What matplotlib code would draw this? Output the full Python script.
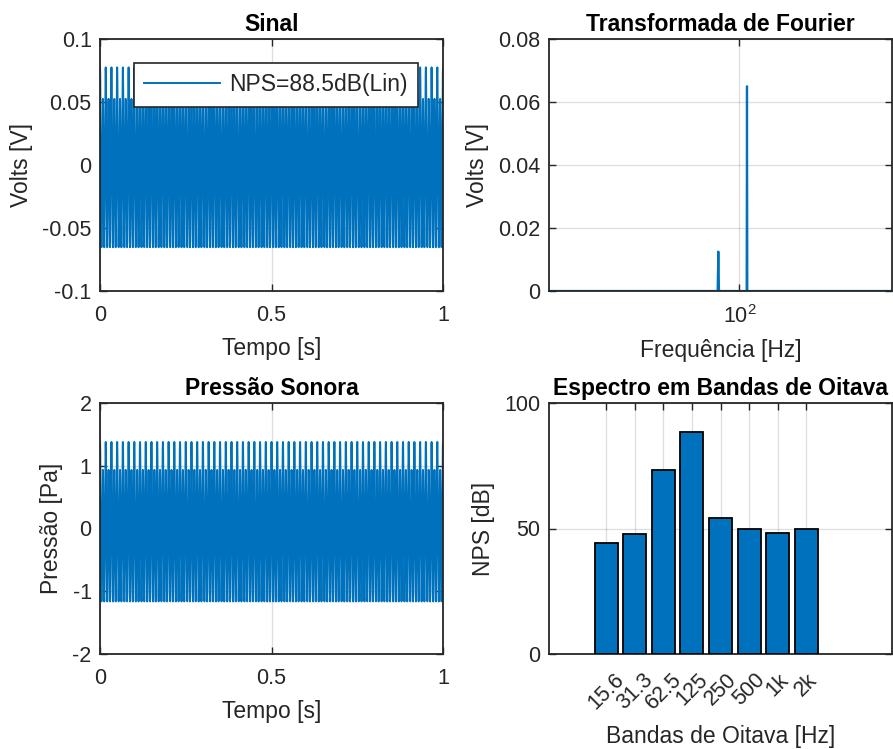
import numpy as np
import matplotlib
matplotlib.use("Agg")
import matplotlib.pyplot as plt
from matplotlib.ticker import FixedLocator, NullLocator

plt.rcParams['font.family'] = ['Liberation Sans', 'DejaVu Sans']
plt.rcParams['font.size'] = 16.5
plt.rcParams['axes.unicode_minus'] = False
plt.rcParams['mathtext.fontset'] = 'custom'
plt.rcParams['mathtext.rm'] = 'Liberation Sans'

# acquisition: 1 s at 8 kHz
fs = 8000
duration = 1.0
# tones seen in the spectrum (Hz) and their amplitudes (V)
tone_freqs = [60, 120]
tone_amps = [0.0125, 0.065]
# microphone calibration, Pa per V
calib_pa_per_v = 17.8
nps_total = 88.5

# octave band levels
band_labels = ['15.6', '31.3', '62.5', '125', '250', '500', '1k', '2k']
band_levels = [44.3, 47.8, 73.3, 88.4, 54.1, 49.8, 48.1, 49.8]

blue = '#0072BD'
dark = '#262626'
TICK = 15.5
LAB = 16.5

t = np.arange(int(fs * duration)) / fs
volts = np.zeros_like(t)
for f, a in zip(tone_freqs, tone_amps):
    volts += a * np.cos(2 * np.pi * f * t)
pressure = volts * calib_pa_per_v

N = len(volts)
spec = np.abs(np.fft.rfft(volts)) / N * 2
freqs = np.fft.rfftfreq(N, 1 / fs)


def style(ax, xpad=10):
    for s in ax.spines.values():
        s.set_color(dark)
        s.set_linewidth(1.3)
    ax.tick_params(direction='in', length=5, width=1.0, color=dark,
                   labelcolor=dark, top=True, right=True, labelsize=TICK)
    ax.tick_params(axis='x', pad=xpad)
    ax.tick_params(axis='y', pad=6)
    ax.grid(True, color='#262626', alpha=0.15, linewidth=0.9)
    ax.set_axisbelow(True)


def labels(ax, title, xl, yl):
    ax.set_title(title, fontweight='bold', fontsize=LAB, pad=6)
    ax.set_xlabel(xl, color=dark, fontsize=LAB, labelpad=8)
    ax.set_ylabel(yl, color=dark, fontsize=LAB, labelpad=7)


fig = plt.figure(figsize=(8.93, 7.49), dpi=100)
ax1 = fig.add_axes([100 / 893, 1 - 291 / 749, 343 / 893, 252 / 749])
ax2 = fig.add_axes([549 / 893, 1 - 291 / 749, 343 / 893, 252 / 749])
ax3 = fig.add_axes([100 / 893, 1 - 654 / 749, 343 / 893, 251 / 749])
ax4 = fig.add_axes([549 / 893, 1 - 654 / 749, 343 / 893, 251 / 749])

# Sinal
ax1.plot(t, volts, color=blue, linewidth=1.4,
         label='NPS=%.1fdB(Lin)' % nps_total)
ax1.set_xlim(0, 1)
ax1.set_ylim(-0.1, 0.1)
ax1.set_xticks([0, 0.5, 1])
ax1.set_xticklabels(['0', '0.5', '1'])
ax1.set_yticks([-0.1, -0.05, 0, 0.05, 0.1])
ax1.set_yticklabels(['-0.1', '-0.05', '0', '0.05', '0.1'])
labels(ax1, 'Sinal', 'Tempo [s]', 'Volts [V]')
style(ax1)
leg = ax1.legend(loc='upper right', bbox_to_anchor=(0.927, 0.905),
                 borderaxespad=0, fancybox=False, framealpha=1,
                 edgecolor=dark, handlelength=3.3, handletextpad=0.4,
                 borderpad=0.45, fontsize=LAB)
leg.get_frame().set_linewidth(1.2)
for txt in leg.get_texts():
    txt.set_color(dark)

# Transformada de Fourier
ax2.semilogx(freqs[1:], spec[1:], color=blue, linewidth=1.6)
ax2.set_xlim(1, 4000)
ax2.set_ylim(0, 0.08)
ax2.xaxis.set_major_locator(FixedLocator([100]))
ax2.xaxis.set_minor_locator(NullLocator())
ax2.set_yticks([0, 0.02, 0.04, 0.06, 0.08])
ax2.set_yticklabels(['0', '0.02', '0.04', '0.06', '0.08'])
labels(ax2, 'Transformada de Fourier', 'Frequência [Hz]', 'Volts [V]')
style(ax2)

# Pressão Sonora
ax3.plot(t, pressure, color=blue, linewidth=1.4)
ax3.set_xlim(0, 1)
ax3.set_ylim(-2, 2)
ax3.set_xticks([0, 0.5, 1])
ax3.set_xticklabels(['0', '0.5', '1'])
ax3.set_yticks([-2, -1, 0, 1, 2])
labels(ax3, 'Pressão Sonora', 'Tempo [s]', 'Pressão [Pa]')
style(ax3)

# Espectro em bandas de oitava
pos = np.arange(1, len(band_levels) + 1)
ax4.bar(pos, band_levels, width=0.8, color=blue, edgecolor='black',
        linewidth=1.3, zorder=3)
ax4.set_xlim(-1, 11)
ax4.set_ylim(0, 100)
ax4.set_xticks(pos)
ax4.set_xticklabels(band_labels, rotation=45, ha='center')
ax4.set_yticks([0, 50, 100])
labels(ax4, 'Espectro em Bandas de Oitava', 'Bandas de Oitava [Hz]',
       'NPS [dB]')
style(ax4, xpad=11)

fig.savefig('out.png', dpi=100)
